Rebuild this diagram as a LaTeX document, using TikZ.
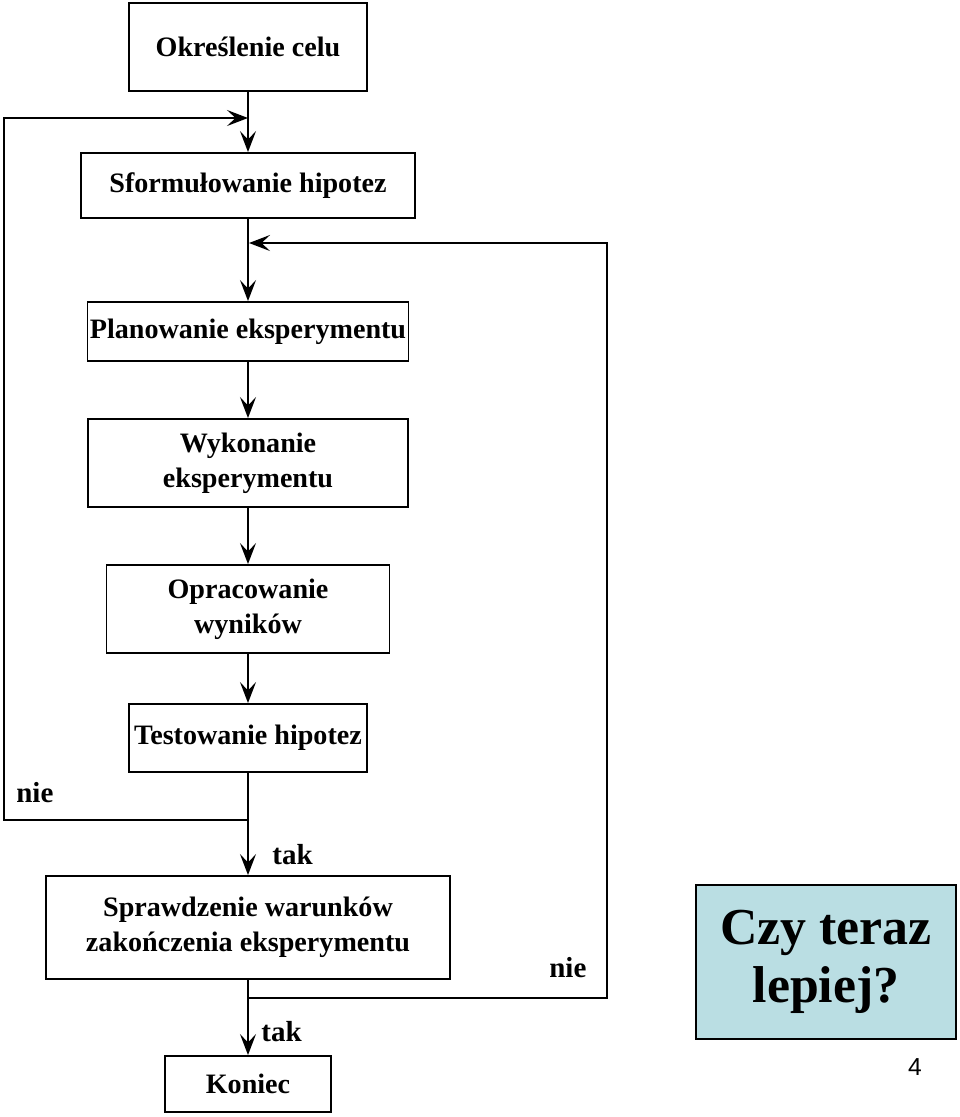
\documentclass[tikz,border=0pt]{standalone}
\usepackage{fontspec}
\setmainfont{Liberation Serif}
\newfontfamily\numfont{Liberation Sans}
\usetikzlibrary{arrows.meta}
\definecolor{ink}{HTML}{000000}
\definecolor{question}{HTML}{BADEE3}
\tikzset{
  flow/.style={-{Stealth[length=4.2mm,width=3.2mm,inset=1.7mm]},draw=ink,line width=1.1pt},
  krok/.style={draw=ink,fill=white,line width=1.1pt,align=center,inner xsep=0pt,inner ysep=2pt,
    font=\fontsize{16}{20}\selectfont\bfseries},
  edge label/.style={font=\fontsize{16.5}{20}\selectfont\bfseries,inner sep=0pt}
}

\begin{document}
\begin{tikzpicture}[x=0.02cm,y=-0.02cm]
  \useasboundingbox (0,0) rectangle (960,1117);

  \node[krok,minimum width=47.6mm,minimum height=17.6mm] (cel) at (248,47) {Określenie celu};
  \node[krok,minimum width=66.8mm,minimum height=13mm] (hipotezy) at (248,185.5) {Sformułowanie hipotez};
  \node[krok,minimum width=64.2mm,minimum height=11.8mm] (plan) at (248,331.5) {Planowanie eksperymentu};
  \node[krok,minimum width=64mm,minimum height=17.6mm] (wykonanie) at (248,463) {Wykonanie\\eksperymentu};
  \node[krok,minimum width=56.6mm,minimum height=17.6mm] (opracowanie) at (248,609) {Opracowanie\\wyników};
  \node[krok,minimum width=47.6mm,minimum height=13.6mm] (test) at (248,738) {Testowanie hipotez};
  \node[krok,minimum width=81mm,minimum height=20.6mm] (warunki) at (248,927.5) {Sprawdzenie warunków\\zakończenia eksperymentu};
  \node[krok,minimum width=33.2mm,minimum height=11.2mm] (koniec) at (248,1084) {Koniec};

  \node[draw=ink,fill=question,line width=0.8pt,minimum width=52mm,minimum height=30.8mm,
    align=center,font=\fontsize{29.5}{33}\selectfont\bfseries] (pytanie) at (826,962) {Czy teraz\\lepiej?};
  \node[font=\numfont\fontsize{14}{16}\selectfont] (strona) at (915,1067) {4};

  % petle powrotu
  \coordinate (wejscie) at (248,118);
  \coordinate (rozwidlenie) at (248,820);
  \coordinate (lewy) at (4,118);
  \coordinate (powrot) at (249,243);
  \coordinate (odejscie) at (248,998);
  \coordinate (prawy) at (607,243);

  \draw[flow] (cel) -- (hipotezy);
  \draw[flow] (hipotezy) -- (plan);
  \draw[flow] (plan) -- (wykonanie);
  \draw[flow] (wykonanie) -- (opracowanie);
  \draw[flow] (opracowanie) -- (test);
  \draw[flow] (test) -- (warunki);
  \draw[flow] (warunki) -- (koniec);
  \draw[flow] (rozwidlenie) -| (lewy) -- (wejscie);
  \draw[flow] (odejscie) -| (prawy) -- (powrot);

  \node[edge label,anchor=west] (nie1) at (16,793) {nie};
  \node[edge label,anchor=west] (tak1) at (272,855) {tak};
  \node[edge label,anchor=west] (nie2) at (549,968) {nie};
  \node[edge label,anchor=west] (tak2) at (261,1032) {tak};
\end{tikzpicture}
\end{document}
